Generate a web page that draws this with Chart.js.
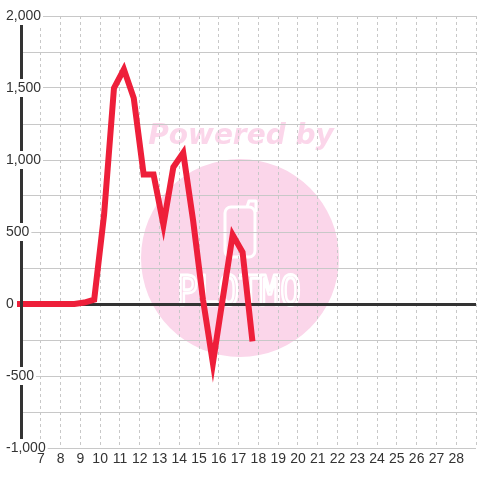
<!DOCTYPE html>
<html><head><meta charset="utf-8">
<script src="https://cdn.jsdelivr.net/npm/chart.js@4/dist/chart.umd.min.js"></script>
<style>html,body{margin:0;padding:0;background:#fff;}#wrap{width:480px;height:480px;}</style>
</head><body><div id="wrap"><canvas id="c" width="480" height="480"></canvas></div>
<script>
// Data
const xValues = [5.7, 6.2, 6.7, 7.2, 7.7, 8.2, 8.7, 9.2, 9.7, 10.2, 10.7, 11.2, 11.7, 12.2, 12.7, 13.2, 13.7, 14.2, 14.7, 15.2, 15.7, 16.2, 16.7, 17.2, 17.7];
const yValues = [0, 0, 0, 0, 0, 0, 0, 10, 30, 620, 1500, 1630, 1430, 900, 900, 550, 950, 1050, 580, 30, -410, 40, 480, 360, -260];
const xTickLabels = [7, 8, 9, 10, 11, 12, 13, 14, 15, 16, 17, 18, 19, 20, 21, 22, 23, 24, 25, 26, 27, 28];
const yTickLabels = [-1000, -500, 0, 500, 1000, 1500, 2000];

const points = xValues.map((x, i) => ({x: x, y: yValues[i]}));

const watermark = {
  id: 'watermark',
  beforeDraw(chart) {
    const ctx = chart.ctx;
    ctx.save();
    ctx.fillStyle = '#fbd6ea';
    ctx.beginPath(); ctx.arc(240, 258, 99, 0, Math.PI * 2); ctx.fill();
    ctx.font = 'italic bold 28px "DejaVu Sans"';
    ctx.textAlign = 'center'; ctx.textBaseline = 'alphabetic';
    ctx.fillText('Powered by', 241, 144);
    ctx.strokeStyle = '#ffffff'; ctx.lineWidth = 3; ctx.lineJoin = 'round';
    ctx.beginPath();
    ctx.roundRect(225, 207, 30, 50, 6);
    ctx.stroke();
    ctx.beginPath(); ctx.moveTo(247, 207); ctx.lineTo(249, 201); ctx.lineTo(256, 201); ctx.lineTo(256, 212); ctx.stroke();
    ctx.font = '36px "DejaVu Sans Mono"';
    ctx.lineWidth = 2.5;
    ctx.save(); ctx.translate(239, 305); ctx.scale(0.95, 1.15);
    ctx.strokeText('PLOTMO', 0, 0);
    ctx.restore();
    ctx.restore();
  }
};

const fontSpec = {family: '"Liberation Sans", Arial, sans-serif', size: 14, lineHeight: 1.0};

new Chart(document.getElementById('c'), {
  type: 'line',
  data: {
    datasets: [{
      data: points,
      borderColor: '#ee1f3a',
      borderWidth: 6,
      borderJoinStyle: 'miter',
      pointRadius: 0,
      fill: false,
      tension: 0,
      clip: 4
    }]
  },
  options: {
    responsive: false,
    animation: false,
    devicePixelRatio: 1,
    layout: {padding: {left: 4, top: 16, right: 0, bottom: 0}},
    plugins: {legend: {display: false}, tooltip: {enabled: false}},
    scales: {
      x: {
        type: 'linear', min: 6, max: 29,
        afterFit: (s) => { s.height = 32; },
        ticks: {
          stepSize: 1, autoSkip: false, maxRotation: 0, padding: 4,
          color: '#333', font: fontSpec, z: 3,
          callback: (v) => xTickLabels.includes(v) ? String(v) : ''
        },
        grid: {color: '#c8c8c8', lineWidth: 1, drawTicks: false},
        border: {display: false, dash: [3, 3]}
      },
      y: {
        type: 'linear', min: -1000, max: 2000,
        afterFit: (s) => { s.width = 17; },
        ticks: {
          stepSize: 250, autoSkip: false, mirror: true, crossAlign: 'near', padding: -15,
          color: '#333', font: fontSpec, z: 2,
          showLabelBackdrop: (ctx) => yTickLabels.includes(ctx.tick && ctx.tick.value),
          backdropColor: '#ffffff', backdropPadding: 2,
          callback: (v) => yTickLabels.includes(v) ? v.toLocaleString('en-US') : ''
        },
        grid: {
          color: (ctx) => (ctx.tick && ctx.tick.value === 0) ? '#333333' : '#c8c8c8',
          lineWidth: (ctx) => (ctx.tick && ctx.tick.value === 0) ? 3 : 1,
          drawTicks: false
        },
        border: {display: true, color: '#333333', width: 3, z: 1}
      }
    }
  },
  plugins: [watermark]
});
</script></body></html>
